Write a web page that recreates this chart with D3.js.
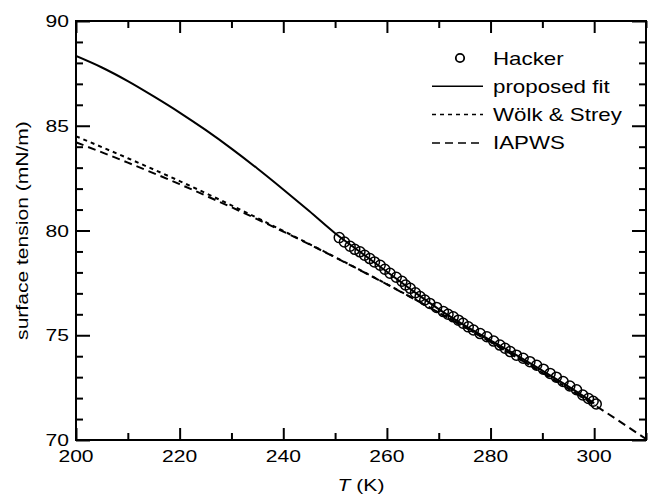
<!DOCTYPE html>
<html>
<head>
<meta charset="utf-8">
<script src="https://cdn.jsdelivr.net/npm/d3@7"></script>
<style>
body { margin: 0; background: #fff; }
text { font-family: "Liberation Sans", Arial, sans-serif; fill: #000; }
</style>
</head>
<body>
<div id="chart"></div>
<script>
// DATA
// Hacker measurements (T in K, surface tension in mN/m)
const hackerT = [250.8, 251.8, 252.9, 253.8, 254.8, 255.7, 256.7, 257.6, 258.7, 259.6,
  260.6, 261.8, 262.9, 263.6, 264.5, 265.5, 266.4, 267.3, 268.3, 269.6,
  270.9, 271.8, 272.8, 273.8, 274.7, 275.7, 276.7, 278.0, 279.3, 280.6,
  281.8, 282.8, 283.8, 285.0, 286.3, 287.6, 288.9, 290.2, 291.5, 292.7,
  294.0, 295.3, 296.6, 297.8, 298.9, 299.8, 300.4];
const hackerS = [79.66, 79.45, 79.25, 79.10, 78.98, 78.82, 78.66, 78.50, 78.34, 78.15,
  77.96, 77.77, 77.58, 77.40, 77.24, 77.03, 76.85, 76.68, 76.52, 76.33,
  76.13, 76.00, 75.88, 75.72, 75.57, 75.40, 75.25, 75.08, 74.93, 74.72,
  74.53, 74.38, 74.22, 74.05, 73.90, 73.74, 73.57, 73.38, 73.18, 73.00,
  72.79, 72.58, 72.40, 72.15, 71.98, 71.85, 71.72];

// proposed fit
const fitT = [200, 205, 210, 215, 220, 225, 230, 235, 240, 245, 250, 255, 260, 265, 270, 275, 280, 285, 290, 295, 300];
const fitS = [88.33, 87.78, 87.13, 86.40, 85.63, 84.80, 83.91, 82.96, 81.96, 80.93, 79.87, 78.95, 78.03, 77.12, 76.25, 75.47, 74.76, 74.05, 73.31, 72.56, 71.76];

// Wölk & Strey
const wsT = [200, 210, 220, 230, 240, 250, 260, 270, 280, 290, 300];
const wsS = [84.50, 83.45, 82.36, 81.20, 79.98, 78.73, 77.44, 76.08, 74.68, 73.21, 71.68];

// IAPWS
const iapT = [200, 210, 220, 230, 240, 250, 260, 270, 280, 290, 300, 310];
const iapS = [84.21, 83.24, 82.21, 81.11, 79.95, 78.72, 77.43, 76.08, 74.68, 73.21, 71.68, 70.05];

const xMajor = [200, 220, 240, 260, 280, 300];
const xMinor = [210, 230, 250, 270, 290, 310];
const yMajor = [70, 75, 80, 85, 90];
const yMinor = [71, 72, 73, 74, 76, 77, 78, 79, 81, 82, 83, 84, 86, 87, 88, 89];

const legendItems = ["Hacker", "proposed fit", "Wölk & Strey", "IAPWS"];

// LAYOUT
const W = 649, H = 494;
const L = 76, R = 646, T = 21, B = 440;
const stretch = 1.24;   // the reference type is set wide

const svg = d3.select("#chart").append("svg")
  .attr("width", W).attr("height", H);

const x = d3.scaleLinear().domain([200, 310]).range([L, R]);
const y = d3.scaleLinear().domain([70, 90]).range([B, T]);

const zip = (a, b) => a.map((v, i) => [v, b[i]]);

const line = d3.line().x(d => x(d[0])).y(d => y(d[1])).curve(d3.curveMonotoneX);

// clip to frame
svg.append("clipPath").attr("id", "clip")
  .append("rect").attr("x", L).attr("y", T).attr("width", R - L).attr("height", B - T);

const plot = svg.append("g").attr("clip-path", "url(#clip)");

plot.append("path").datum(zip(iapT, iapS))
  .attr("d", line).attr("fill", "none").attr("stroke", "#000")
  .attr("stroke-width", 2).attr("stroke-dasharray", "8,5");

plot.append("path").datum(zip(wsT, wsS))
  .attr("d", line).attr("fill", "none").attr("stroke", "#000")
  .attr("stroke-width", 2).attr("stroke-dasharray", "4,4");

plot.append("path").datum(zip(fitT, fitS))
  .attr("d", line).attr("fill", "none").attr("stroke", "#000")
  .attr("stroke-width", 2);

plot.append("g").selectAll("circle").data(zip(hackerT, hackerS))
  .join("circle")
    .attr("cx", d => x(d[0]))
    .attr("cy", d => y(d[1]))
    .attr("r", 5)
    .attr("fill", "none")
    .attr("stroke", "#000")
    .attr("stroke-width", 1.5);

// AXES: inward ticks on all four sides, built with d3 axes
const major = 12, minor = 7;
function tickAxis(axis, values, len, transform){
  const g = svg.append("g").attr("transform", transform)
    .call(axis.tickValues(values).tickSize(-len).tickFormat(() => ""));
  g.select(".domain").remove();
  g.selectAll(".tick line").attr("stroke", "#000").attr("stroke-width", 2);
}
tickAxis(d3.axisBottom(x), xMajor, major, `translate(0,${B})`);
tickAxis(d3.axisBottom(x), xMinor, minor, `translate(0,${B})`);
tickAxis(d3.axisTop(x), xMajor, major, `translate(0,${T})`);
tickAxis(d3.axisTop(x), xMinor, minor, `translate(0,${T})`);
tickAxis(d3.axisLeft(y), yMajor, major + 2, `translate(${L},0)`);
tickAxis(d3.axisLeft(y), yMinor, minor, `translate(${L},0)`);
tickAxis(d3.axisRight(y), yMajor, major + 2, `translate(${R},0)`);
tickAxis(d3.axisRight(y), yMinor, minor, `translate(${R},0)`);

svg.append("rect").attr("x", L).attr("y", T).attr("width", R - L).attr("height", B - T)
  .attr("fill", "none").attr("stroke", "#000").attr("stroke-width", 2);

// tick labels
svg.append("g").selectAll("text").data(xMajor).join("text")
  .attr("transform", d => `translate(${x(d)},462) scale(${stretch},1)`)
  .attr("text-anchor", "middle").attr("font-size", 17)
  .text(d => d);

svg.append("g").selectAll("text").data(yMajor).join("text")
  .attr("transform", d => `translate(69,${y(d) + 6}) scale(${stretch},1)`)
  .attr("text-anchor", "end").attr("font-size", 17)
  .text(d => d);

// axis titles
const xt = svg.append("text")
  .attr("transform", `translate(${x(255)},491) scale(${stretch},1)`)
  .attr("text-anchor", "middle").attr("font-size", 17);
xt.append("tspan").attr("font-style", "italic").text("T");
xt.append("tspan").text(" (K)");

svg.append("text")
  .attr("transform", `translate(28,${(T + B) / 2}) rotate(-90) scale(${stretch},1)`)
  .attr("text-anchor", "middle").attr("font-size", 17)
  .text("surface tension (mN/m)");

// LEGEND
const lg = svg.append("g");
const rowY = i => 58 + i * 28.3;
legendItems.forEach((name, i) => {
  const yy = rowY(i);
  if (i === 0) {
    lg.append("circle").attr("cx", 460).attr("cy", yy).attr("r", 4.2)
      .attr("fill", "none").attr("stroke", "#000").attr("stroke-width", 1.8);
  } else {
    lg.append("line").attr("x1", 432).attr("x2", 483).attr("y1", yy).attr("y2", yy)
      .attr("stroke", "#000").attr("stroke-width", 1.5)
      .attr("stroke-dasharray", i === 1 ? null : (i === 2 ? "4,4" : "8,5"));
  }
  lg.append("text")
    .attr("transform", `translate(493,${yy + 6.5}) scale(${stretch},1)`)
    .attr("font-size", 18).text(name);
});
</script>
</body>
</html>
